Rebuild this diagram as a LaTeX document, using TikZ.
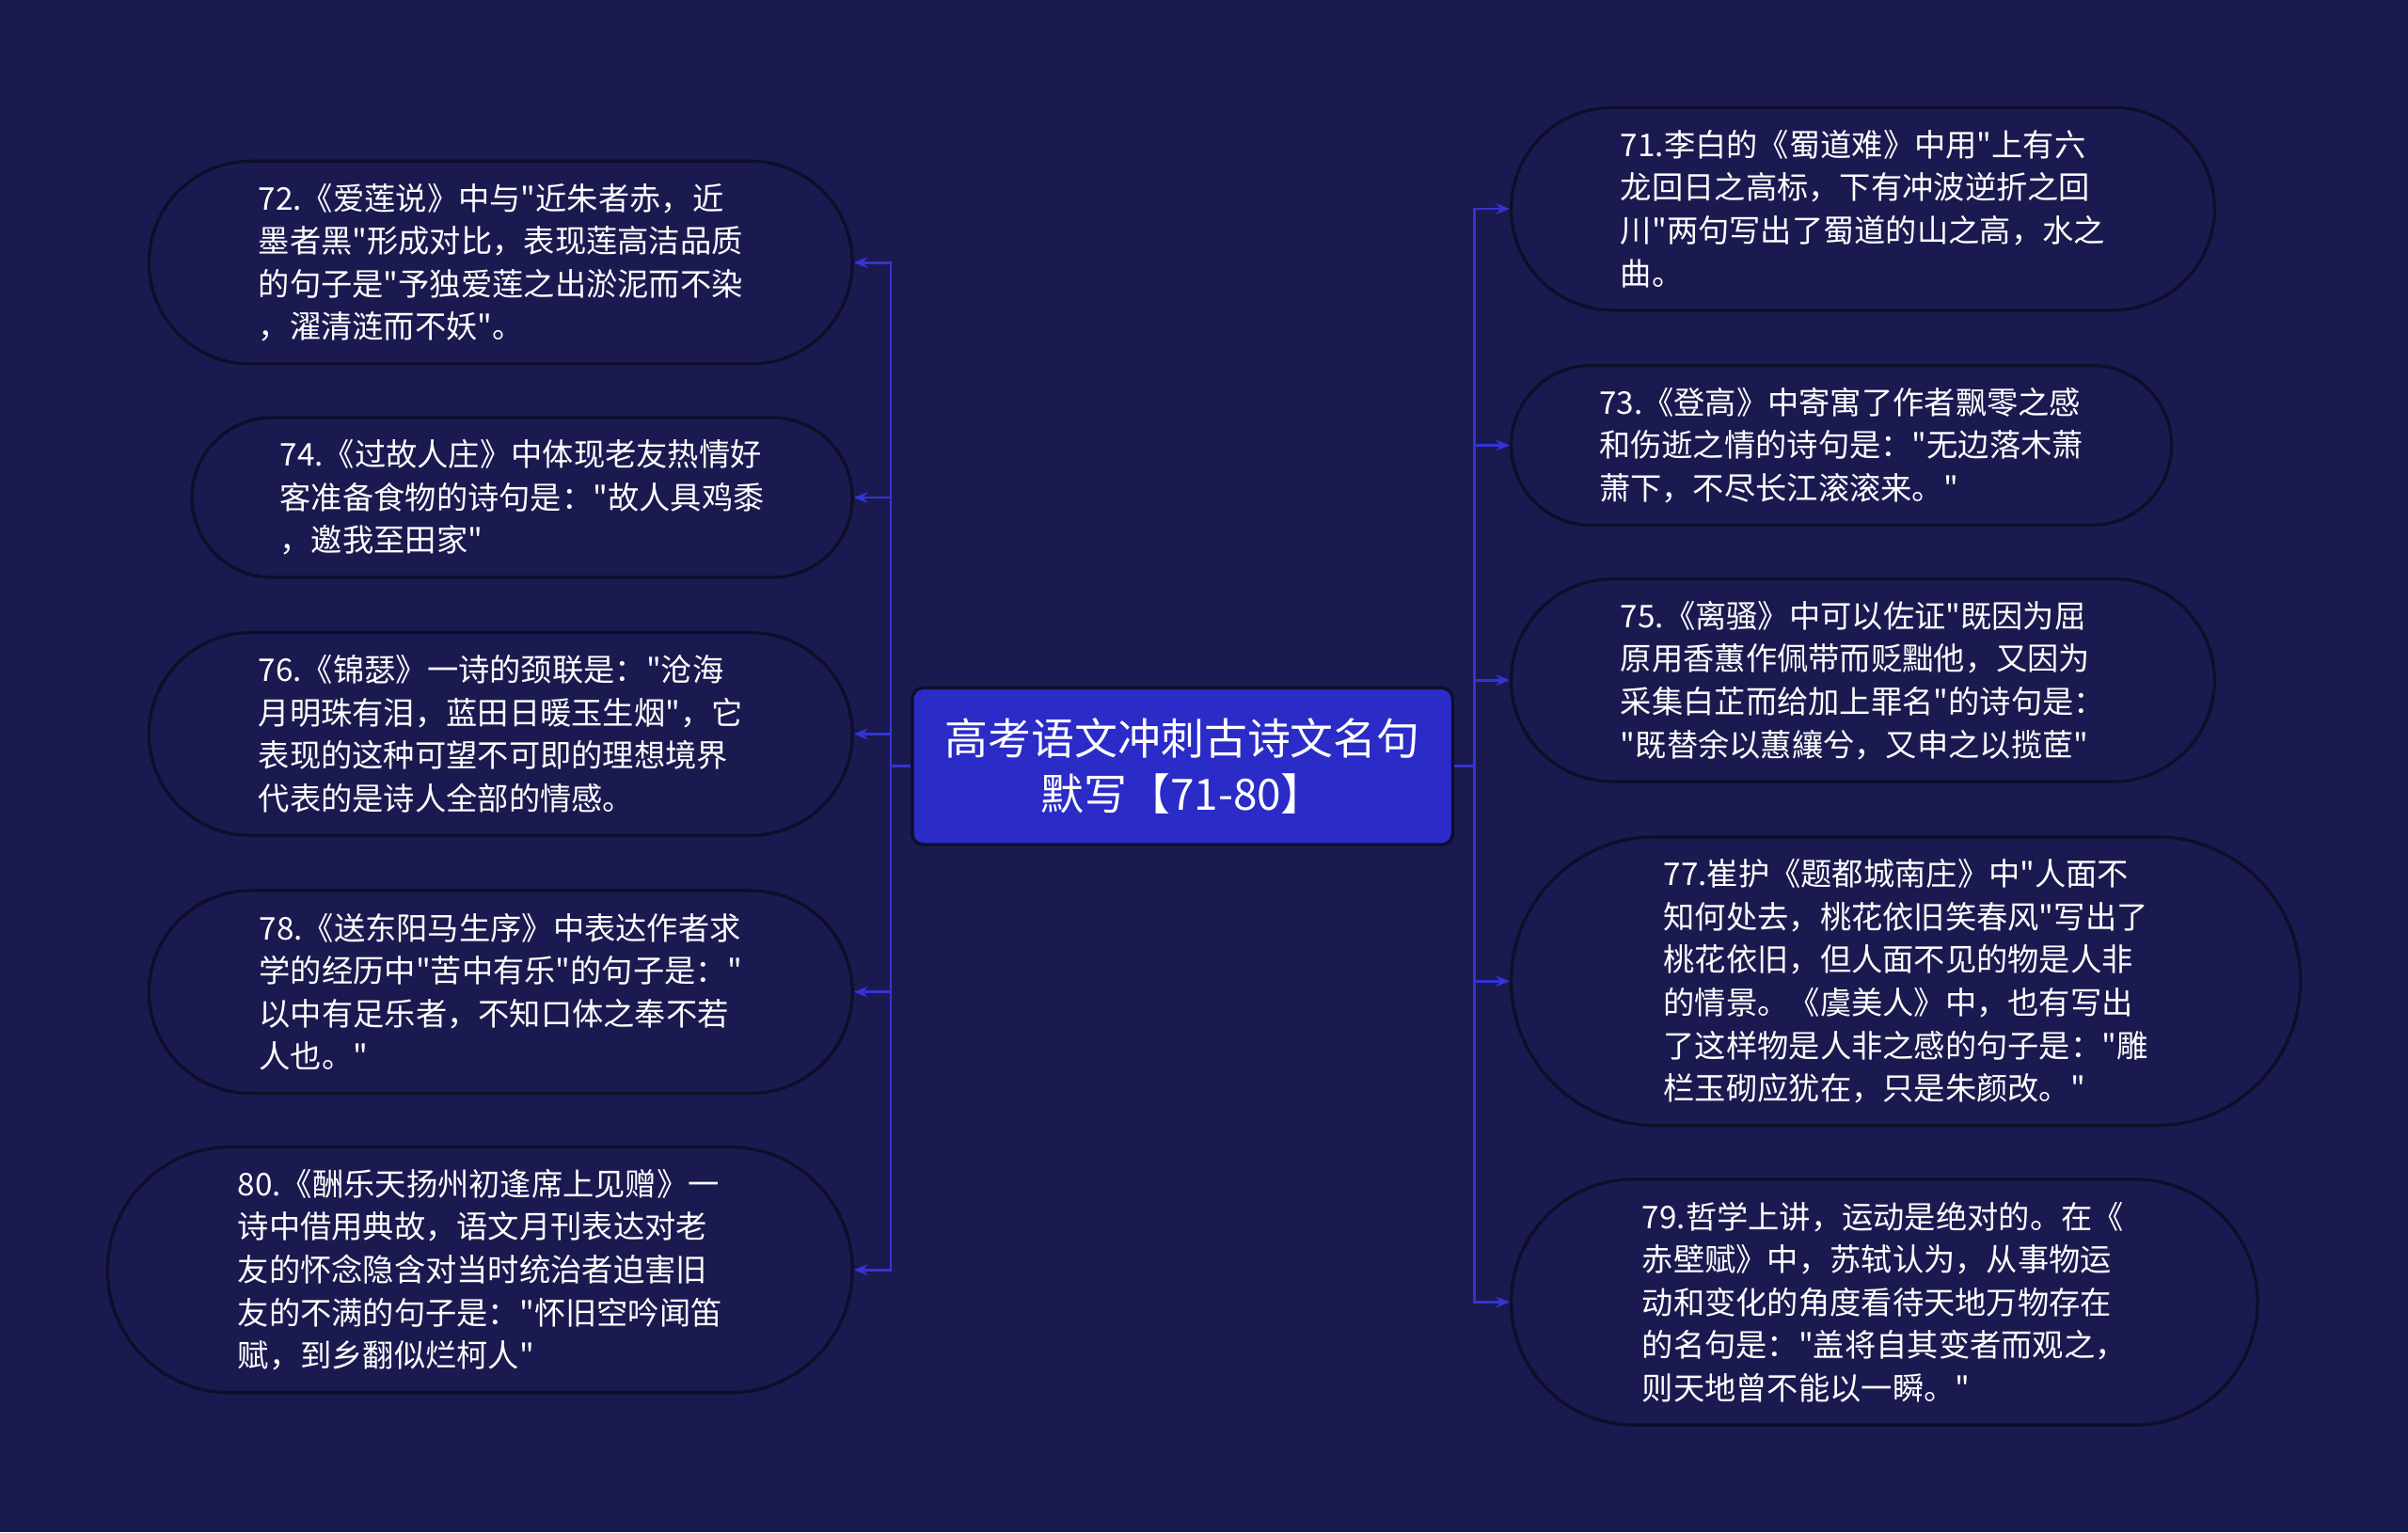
\documentclass[tikz,border=0pt]{standalone}
\usepackage{fontspec}
\newfontfamily\cjk{Noto Sans CJK SC}
\usetikzlibrary{shapes.misc,arrows.meta}
\definecolor{bg}{HTML}{1B1A50}
\definecolor{edge}{HTML}{0E0E2C}
\definecolor{cfill}{HTML}{2B2BC8}
\definecolor{link}{HTML}{3434D4}
\tikzset{
 leaf/.style={rounded rectangle,draw=edge,line width=1.2pt,fill=bg,text=white,align=left,font=\cjk\fontsize{11.6}{15.9}\selectfont,inner sep=0pt},
 hub/.style={rectangle,rounded corners=4pt,draw=edge,line width=1.2pt,fill=cfill,text=white,align=center,font=\cjk\fontsize{16}{20.5}\selectfont,inner sep=0pt},
 conn/.style={link,line width=1pt},
 arr/.style={conn,-{Stealth[length=5pt,width=4pt]}}
}
\begin{document}
\begin{tikzpicture}[x=0.02cm,y=-0.02cm]
\fill[bg] (0,0) rectangle (1568,998);
\useasboundingbox (0,0) rectangle (1568,998);
\newcommand\leafnode[6]{\node[leaf,minimum width={(#4-#2)*0.02cm},minimum height={(#5-#3)*0.02cm}] (#1) at ({(#2+#4)/2},{(#3+#5)/2}) {#6};}
\leafnode{n72}{97}{105}{555}{237}{72.《爱莲说》中与"近朱者赤，近\\墨者黑"形成对比，表现莲高洁品质\\的句子是"予独爱莲之出淤泥而不染\\，濯清涟而不妖"。}
\leafnode{n74}{125}{272}{555}{376}{74.《过故人庄》中体现老友热情好\\客准备食物的诗句是："故人具鸡黍\\，邀我至田家"}
\leafnode{n76}{97}{412}{555}{544}{76.《锦瑟》一诗的颈联是："沧海\\月明珠有泪，蓝田日暖玉生烟"，它\\表现的这种可望不可即的理想境界\\代表的是诗人全部的情感。}
\leafnode{n78}{97}{580}{555}{712}{78.《送东阳马生序》中表达作者求\\学的经历中"苦中有乐"的句子是："\\以中有足乐者，不知口体之奉不若\\人也。"}
\leafnode{n80}{70}{747}{555}{907}{80.《酬乐天扬州初逢席上见赠》一\\诗中借用典故，语文月刊表达对老\\友的怀念隐含对当时统治者迫害旧\\友的不满的句子是："怀旧空吟闻笛\\赋，到乡翻似烂柯人"}
\leafnode{n71}{984}{70}{1442}{202}{71.李白的《蜀道难》中用"上有六\\龙回日之高标，下有冲波逆折之回\\川"两句写出了蜀道的山之高，水之\\曲。}
\leafnode{n73}{984}{238}{1414}{342}{73.《登高》中寄寓了作者飘零之感\\和伤逝之情的诗句是："无边落木萧\\萧下，不尽长江滚滚来。"}
\leafnode{n75}{984}{377}{1442}{509}{75.《离骚》中可以佐证"既因为屈\\原用香蕙作佩带而贬黜他，又因为\\采集白芷而给加上罪名"的诗句是：\\"既替余以蕙纕兮，又申之以揽茝"}
\leafnode{n77}{984}{545}{1498}{733}{77.崔护《题都城南庄》中"人面不\\知何处去，桃花依旧笑春风"写出了\\桃花依旧，但人面不见的物是人非\\的情景。《虞美人》中，也有写出\\了这样物是人非之感的句子是："雕\\栏玉砌应犹在，只是朱颜改。"}
\leafnode{n79}{984}{768}{1470}{928}{79.哲学上讲，运动是绝对的。在《\\赤壁赋》中，苏轼认为，从事物运\\动和变化的角度看待天地万物存在\\的名句是："盖将自其变者而观之，\\则天地曾不能以一瞬。"}
\node[hub,minimum width={352*0.02cm},minimum height={102*0.02cm}] (c) at (770,499) {高考语文冲刺古诗文名句\\默写【71-80】};
\coordinate (L) at (580,499);
\coordinate (R) at (960,499);
\draw[conn] (c.west) -- (L);
\draw[conn] (c.east) -- (R);
\foreach \n in {n72,n74,n76,n78,n80}{\draw[arr] (L) |- (\n.east);}
\foreach \n in {n71,n73,n75,n77,n79}{\draw[arr] (R) |- (\n.west);}
\end{tikzpicture}
\end{document}
